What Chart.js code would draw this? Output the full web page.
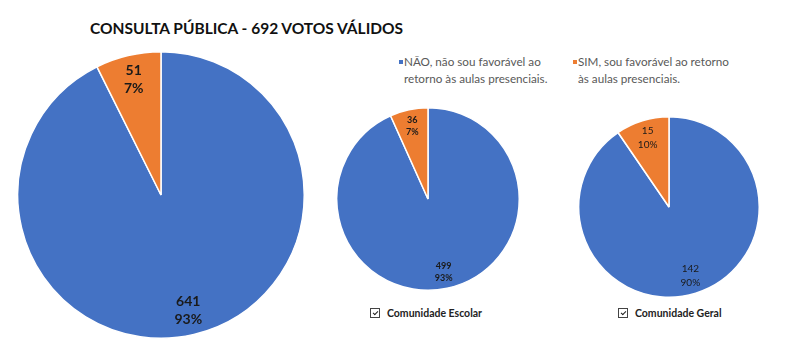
<!DOCTYPE html>
<html><head><meta charset="utf-8">
<script src="https://cdn.jsdelivr.net/npm/chart.js@4/dist/chart.umd.min.js"></script>
<style>
html,body{margin:0;padding:0;background:#fff;width:800px;height:358px;overflow:hidden;position:relative;font-family:Lato,"Open Sans",sans-serif}
.cv{position:absolute}
#title{position:absolute;left:90px;top:19px;font-weight:700;font-size:15.5px;color:#111;white-space:nowrap;letter-spacing:0}
.leg{position:absolute;font-size:11.7px;color:#595959;line-height:17px;white-space:nowrap}
.sw{position:absolute;width:4px;height:4px;top:7px;left:-5px}
.grp{position:absolute;font-size:10.5px;font-weight:700;color:#222;white-space:nowrap}
.cb{position:relative;display:inline-block;width:8px;height:8px;border:1px solid #444;margin-right:7px;vertical-align:-1px}
.cb::after{content:"";position:absolute;left:2.5px;top:0.5px;width:2px;height:4px;border-right:1.5px solid #222;border-bottom:1.5px solid #222;transform:rotate(45deg)}
</style></head>
<body>
<div id="title"></div>
<div class="leg" id="leg0" style="left:404px;top:53px"><span class="sw" style="background:#4472C4"></span><span id="l0"></span></div>
<div class="leg" id="leg1" style="left:578px;top:53px"><span class="sw" style="background:#ED7D31"></span><span id="l1"></span></div>
<canvas id="c0" class="cv" style="left:17px;top:51px" width="288" height="288"></canvas>
<canvas id="c1" class="cv" style="left:336px;top:107px" width="184" height="184"></canvas>
<canvas id="c2" class="cv" style="left:578px;top:116px" width="182" height="182"></canvas>
<div class="grp" style="left:370px;top:307px"><span class="cb"></span><span id="g0"></span></div>
<div class="grp" style="left:618px;top:307px"><span class="cb"></span><span id="g1"></span></div>
<script>
const chartTitle = 'CONSULTA PÚBLICA - 692 VOTOS VÁLIDOS';
const categories = ['NÃO, não sou favorável ao retorno às aulas presenciais.', 'SIM, sou favorável ao retorno às aulas presenciais.'];
const legendLines = [['NÃO, não sou favorável ao', 'retorno às aulas presenciais.'], ['SIM, sou favorável ao retorno', 'às aulas presenciais.']];
const totalVotes = [641, 51];
const escolarVotes = [499, 36];
const geralVotes = [142, 15];
const groupNames = ['Comunidade Escolar', 'Comunidade Geral'];
const colors = ['#4472C4', '#ED7D31'];

document.getElementById('title').textContent = chartTitle;
document.getElementById('l0').innerHTML = legendLines[0].join('<br>');
document.getElementById('l1').innerHTML = legendLines[1].join('<br>');
document.getElementById('g0').textContent = groupNames[0];
document.getElementById('g1').textContent = groupNames[1];

const labelPlugin = {
  id: 'pielabels',
  afterDatasetsDraw(chart, args, opts) {
    const ctx = chart.ctx;
    const meta = chart.getDatasetMeta(0);
    const data = chart.data.datasets[0].data;
    const total = data.reduce((a, b) => a + b, 0);
    meta.data.forEach((arc, i) => {
      const p = arc.getProps(['x', 'y', 'startAngle', 'endAngle', 'outerRadius'], true);
      const mid = (p.startAngle + p.endAngle) / 2;
      const r = p.outerRadius * opts.frac;
      const x = p.x + Math.cos(mid) * r;
      const y = p.y + Math.sin(mid) * r;
      ctx.save();
      ctx.fillStyle = '#1a1a1a';
      ctx.font = opts.font;
      ctx.textAlign = 'center';
      ctx.textBaseline = 'middle';
      ctx.fillText(String(data[i]), x, y - opts.gap / 2);
      ctx.fillText(Math.round(data[i] / total * 100) + '%', x, y + opts.gap / 2);
      ctx.restore();
    });
  }
};

function makePie(id, values, labelOpts) {
  return new Chart(document.getElementById(id), {
    type: 'pie',
    data: { labels: categories, datasets: [{ data: values, backgroundColor: colors, borderColor: '#ffffff', borderWidth: 1.5 }] },
    options: {
      responsive: false, animation: false,
      layout: { padding: 0 },
      plugins: { legend: { display: false }, tooltip: { enabled: false }, pielabels: labelOpts }
    },
    plugins: [labelPlugin]
  });
}
makePie('c0', totalVotes, { frac: 0.83, font: 'bold 14px Lato', gap: 18 });
makePie('c1', escolarVotes, { frac: 0.82, font: 'bold 9px Lato', gap: 12 });
makePie('c2', geralVotes, { frac: 0.80, font: '10px Lato', gap: 14 });
</script>
</body></html>
